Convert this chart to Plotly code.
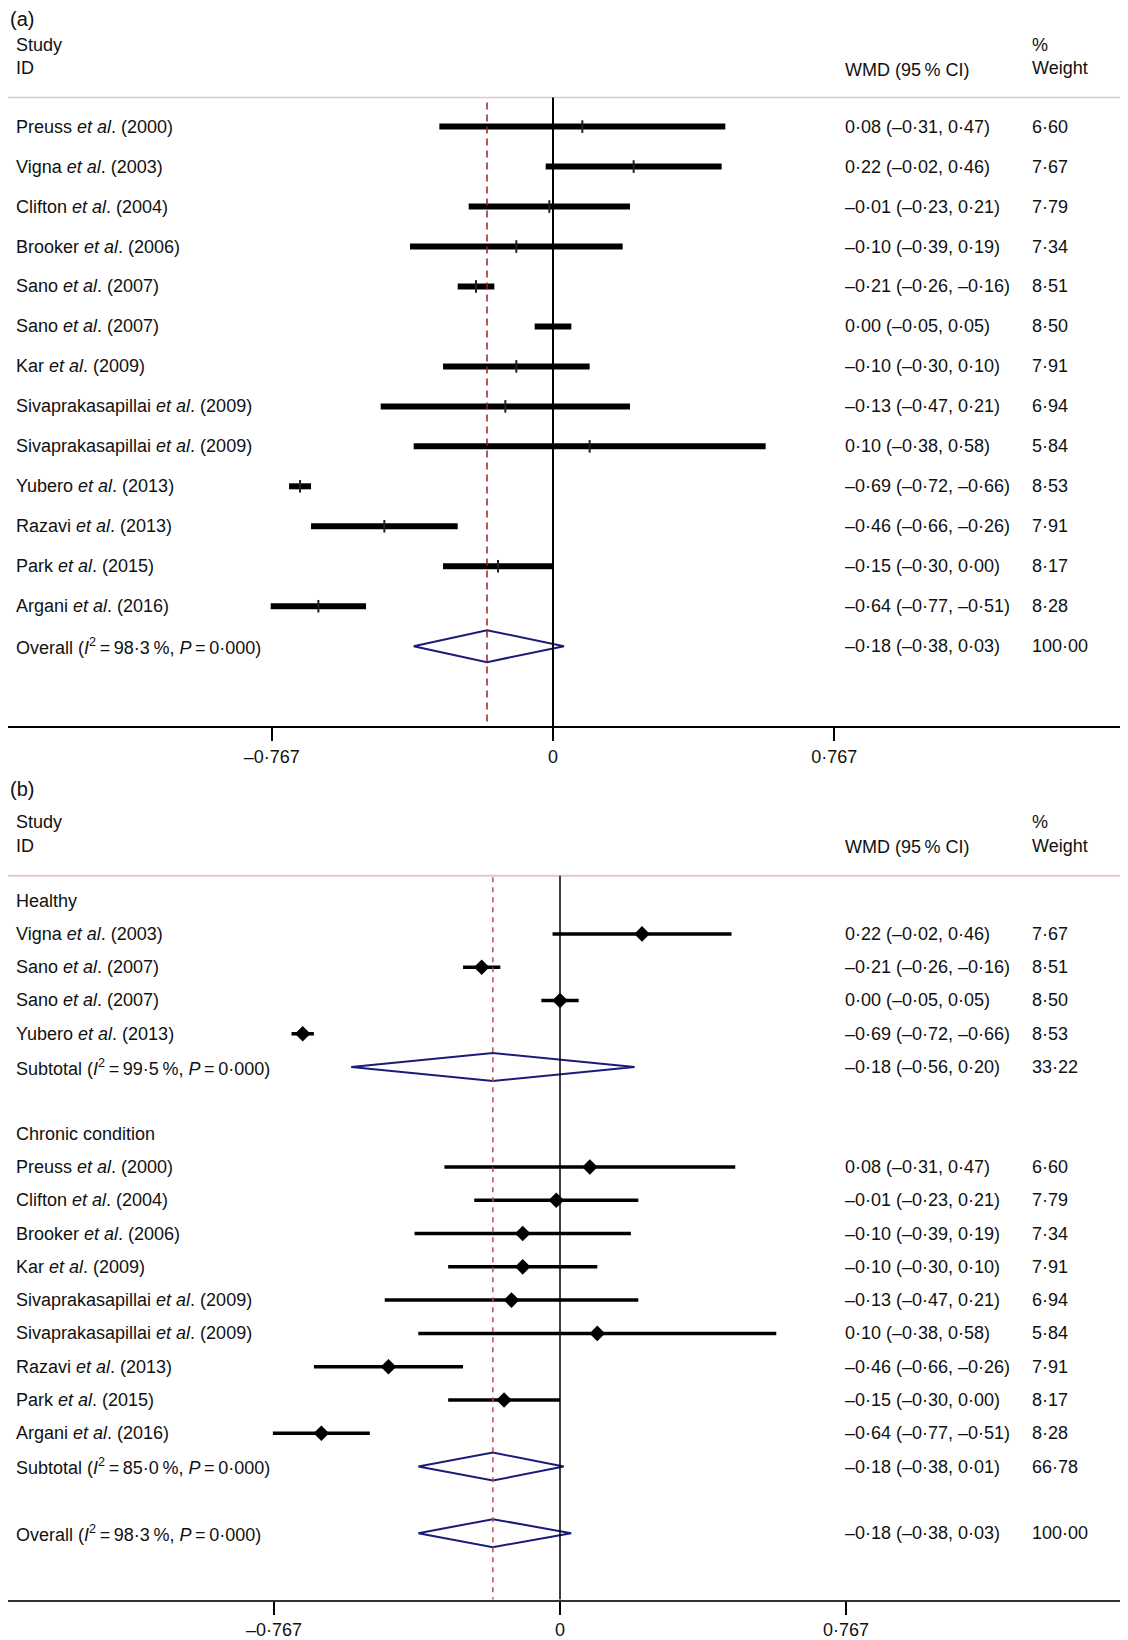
import plotly.graph_objects as go

FONT = "Arial, Liberation Sans, sans-serif"

# study level results (WMD, 95 % CI, % weight)
authors = ["Preuss", "Vigna", "Clifton", "Brooker", "Sano", "Sano", "Kar",
           "Sivaprakasapillai", "Sivaprakasapillai", "Yubero", "Razavi", "Park", "Argani"]
years = [2000, 2003, 2004, 2006, 2007, 2007, 2009, 2009, 2009, 2013, 2013, 2015, 2016]
wmd = [0.08, 0.22, -0.01, -0.10, -0.21, 0.00, -0.10, -0.13, 0.10, -0.69, -0.46, -0.15, -0.64]
ci_low = [-0.31, -0.02, -0.23, -0.39, -0.26, -0.05, -0.30, -0.47, -0.38, -0.72, -0.66, -0.30, -0.77]
ci_high = [0.47, 0.46, 0.21, 0.19, -0.16, 0.05, 0.10, 0.21, 0.58, -0.66, -0.26, 0.00, -0.51]
weight = [6.60, 7.67, 7.79, 7.34, 8.51, 8.50, 7.91, 6.94, 5.84, 8.53, 7.91, 8.17, 8.28]
group = ["Chronic", "Healthy", "Chronic", "Chronic", "Healthy", "Healthy", "Chronic",
         "Chronic", "Chronic", "Healthy", "Chronic", "Chronic", "Chronic"]

# pooled estimates: healthy subtotal, chronic subtotal, overall
pooled_wmd = [-0.18, -0.18, -0.18]
pooled_low = [-0.56, -0.38, -0.38]
pooled_high = [0.20, 0.01, 0.03]
pooled_weight = [33.22, 66.78, 100.00]
pooled_i2 = [99.5, 85.0, 98.3]

tick_vals = [-0.767, 0, 0.767]


def num(v, d=2):
    s = f"{abs(v):.{d}f}".replace(".", "·")
    return "–" + s if v < 0 else s


tick_text = [num(v, 3) if v else "0" for v in tick_vals]


def ci_text(e, lo, hi):
    return f"{num(e)} ({num(lo)}, {num(hi)})"


def study_label(i):
    return f"{authors[i]} <i>et al</i>. ({years[i]})"


def stats_label(prefix, i2):
    return (f"{prefix} (<i>I</i><sup>2</sup>\u2009=\u2009{num(i2, 1)}\u2009%, "
            f"<i>P</i>\u2009=\u20090·000)")


def diamond(e, lo, hi, r, h):
    return [lo, e, hi, e, lo], [r, r - h, r, r + h, r]


# page body keeps an 8px margin, so the figure is a bit smaller than the window
OFF = 8
W, H = 1128 - OFF, 1640 - OFF


def xp(px):
    # paper x for a text starting at page pixel px (annotation pad ~2px)
    return (px - OFF - 2) / W


X_LABEL, X_WMD, X_WT = xp(16), xp(845), xp(1032)
FS = 18

fig = go.Figure()
ann = []


def txt(x, yref, y, text, size=FS):
    ann.append(dict(x=x, y=y, xref="paper", yref=yref, text=text, showarrow=False,
                    xanchor="left", yanchor="middle", font=dict(family=FONT, size=size, color="#111")))


# ---------------- panel (a) ----------------
rows_a = list(range(len(authors)))
lx, ly = [], []
for i, r in enumerate(rows_a):
    lx += [ci_low[i], ci_high[i], None]
    ly += [r, r, None]
    txt(X_LABEL, "y", r, study_label(i))
    txt(X_WMD, "y", r, ci_text(wmd[i], ci_low[i], ci_high[i]))
    txt(X_WT, "y", r, num(weight[i]))
fig.add_trace(go.Scatter(x=lx, y=ly, mode="lines", line=dict(color="black", width=6),
                         xaxis="x", yaxis="y", hoverinfo="skip"))
fig.add_trace(go.Scatter(x=wmd, y=rows_a, mode="markers", xaxis="x", yaxis="y",
                         marker=dict(symbol="line-ns", size=9, line=dict(width=2, color="#222"))))
r_ov = len(authors)
dx, dy = diamond(pooled_wmd[2], pooled_low[2], pooled_high[2], r_ov, 0.4)
fig.add_trace(go.Scatter(x=dx, y=dy, mode="lines", line=dict(color="#1b1b7a", width=2),
                         xaxis="x", yaxis="y"))
txt(X_LABEL, "y", r_ov, stats_label("Overall", pooled_i2[2]))
txt(X_WMD, "y", r_ov, ci_text(pooled_wmd[2], pooled_low[2], pooled_high[2]))
txt(X_WT, "y", r_ov, num(pooled_weight[2]))

txt(0, "y", -2.68, "(a)", 20)
txt(X_LABEL, "y", -2.04, "Study")
txt(X_LABEL, "y", -1.47, "ID")
txt(X_WMD, "y", -1.42, "WMD (95\u2009% CI)")
txt(X_WT, "y", -2.04, "%")
txt(X_WT, "y", -1.47, "Weight")

# ---------------- panel (b) ----------------
healthy_idx = [i for i, g in enumerate(group) if g == "Healthy"]
chronic_idx = [i for i, g in enumerate(group) if g == "Chronic"]
blocks = [("Healthy", healthy_idx, 0, 0), ("Chronic condition", chronic_idx, 7, 1)]
lx, ly, px, py = [], [], [], []
for title, idx, start, k in blocks:
    txt(X_LABEL, "y2", start, title)
    r = start
    for i in idx:
        r += 1
        lx += [ci_low[i], ci_high[i], None]
        ly += [r, r, None]
        px.append(wmd[i])
        py.append(r)
        txt(X_LABEL, "y2", r, study_label(i))
        txt(X_WMD, "y2", r, ci_text(wmd[i], ci_low[i], ci_high[i]))
        txt(X_WT, "y2", r, num(weight[i]))
    r += 1
    dx, dy = diamond(pooled_wmd[k], pooled_low[k], pooled_high[k], r, 0.42)
    fig.add_trace(go.Scatter(x=dx, y=dy, mode="lines", line=dict(color="#1b1b7a", width=2),
                             xaxis="x2", yaxis="y2"))
    txt(X_LABEL, "y2", r, stats_label("Subtotal", pooled_i2[k]))
    txt(X_WMD, "y2", r, ci_text(pooled_wmd[k], pooled_low[k], pooled_high[k]))
    txt(X_WT, "y2", r, num(pooled_weight[k]))

fig.add_trace(go.Scatter(x=lx, y=ly, mode="lines", line=dict(color="black", width=3.5),
                         xaxis="x2", yaxis="y2", hoverinfo="skip"))
fig.add_trace(go.Scatter(x=px, y=py, mode="markers", xaxis="x2", yaxis="y2",
                         marker=dict(symbol="diamond", size=12, color="black")))
r_ov_b = 19
dx, dy = diamond(pooled_wmd[2], pooled_low[2], pooled_high[2], r_ov_b, 0.42)
fig.add_trace(go.Scatter(x=dx, y=dy, mode="lines", line=dict(color="#1b1b7a", width=2),
                         xaxis="x2", yaxis="y2"))
txt(X_LABEL, "y2", r_ov_b, stats_label("Overall", pooled_i2[2]))
txt(X_WMD, "y2", r_ov_b, ci_text(pooled_wmd[2], pooled_low[2], pooled_high[2]))
txt(X_WT, "y2", r_ov_b, num(pooled_weight[2]))

txt(0, "y2", -3.35, "(b)", 20)
txt(X_LABEL, "y2", -2.36, "Study")
txt(X_LABEL, "y2", -1.64, "ID")
txt(X_WMD, "y2", -1.6, "WMD (95\u2009% CI)")
txt(X_WT, "y2", -2.36, "%")
txt(X_WT, "y2", -1.64, "Weight")

shapes = [
    # panel a
    dict(type="line", xref="paper", yref="y", x0=0, x1=0.995, y0=-0.73, y1=-0.73,
         line=dict(color="#dccaca", width=1.5)),
    dict(type="line", xref="x", yref="y", x0=0, x1=0, y0=-0.73, y1=15,
         line=dict(color="black", width=2)),
    dict(type="line", xref="x", yref="y", x0=pooled_wmd[2], x1=pooled_wmd[2], y0=-0.6, y1=15,
         line=dict(color="#a51c24", width=1.5, dash="7px,5px")),
    # panel b
    dict(type="line", xref="paper", yref="y2", x0=0, x1=0.995, y0=-0.75, y1=-0.75,
         line=dict(color="#dccaca", width=2)),
    dict(type="line", xref="x2", yref="y2", x0=0, x1=0, y0=-0.75, y1=21,
         line=dict(color="black", width=1.5)),
    dict(type="line", xref="x2", yref="y2", x0=pooled_wmd[2], x1=pooled_wmd[2], y0=-0.7, y1=21,
         line=dict(color="#c24a55", width=1.5, dash="5px,5px")),
]

axis_common = dict(tickvals=tick_vals, ticktext=tick_text, showline=True, linecolor="black",
                   linewidth=2, ticks="outside", ticklen=13, tickwidth=1.5, tickcolor="black",
                   showgrid=False, zeroline=False, domain=[0, 1],
                   tickfont=dict(family=FONT, size=FS, color="#111"))

zero_a, zero_b = 553 - OFF, 560 - OFF  # pixel of WMD = 0 inside the figure
fig.update_layout(
    width=W, height=H, margin=dict(l=0, r=0, t=0, b=0),
    paper_bgcolor="white", plot_bgcolor="white", showlegend=False,
    xaxis=dict(axis_common, range=[-zero_a / 366.6, (W - zero_a) / 366.6], anchor="y"),
    yaxis=dict(domain=[1 - (727 - OFF) / H, 1], range=[15, (OFF - 126.7) / 40], visible=False),
    xaxis2=dict(axis_common, range=[-zero_b / 372.9, (W - zero_b) / 372.9], anchor="y2",
                linecolor="#333"),
    yaxis2=dict(domain=[1 - (1601.7 - OFF) / H, 1 - (760 - OFF) / H],
                range=[21.0, (760 - 901.7) / 33.33], visible=False),
    annotations=ann, shapes=shapes,
)

fig.write_html("out.html")
